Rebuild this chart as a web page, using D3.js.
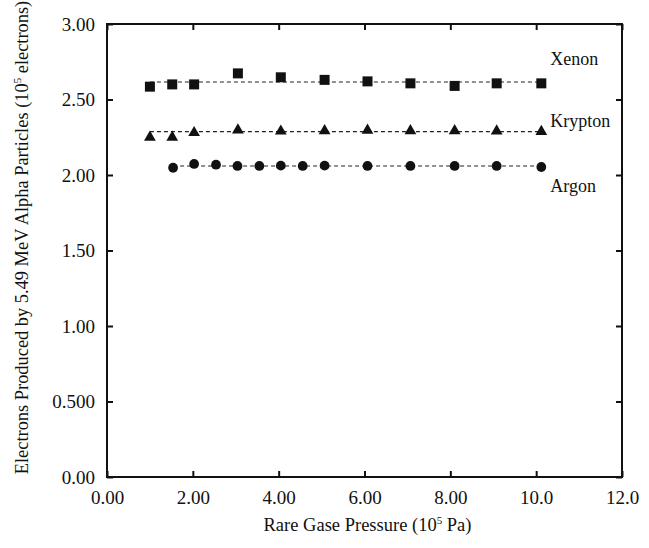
<!DOCTYPE html>
<html>
<head>
<meta charset="utf-8">
<script src="https://cdn.jsdelivr.net/npm/d3@7"></script>
<style>
  body { margin: 0; background: #fff; }
  text { font-family: "Liberation Serif", "Times New Roman", serif; fill: #111; }
</style>
</head>
<body>
<script>
// pressure (10^5 Pa) and electrons (10^5)
var xenonP = [1.0, 1.52, 2.03, 3.05, 4.05, 5.07, 6.07, 7.07, 8.1, 9.08, 10.12];
var xenonE = [2.585, 2.60, 2.60, 2.673, 2.647, 2.63, 2.62, 2.607, 2.59, 2.607, 2.607];
var kryptonP = [1.0, 1.52, 2.03, 3.05, 4.05, 5.07, 6.07, 7.07, 8.1, 9.08, 10.12];
var kryptonE = [2.25, 2.25, 2.28, 2.298, 2.29, 2.293, 2.296, 2.293, 2.293, 2.291, 2.287];
var argonP = [1.54, 2.03, 2.54, 3.04, 3.55, 4.05, 4.56, 5.07, 6.07, 7.07, 8.1, 9.08, 10.12];
var argonE = [2.048, 2.073, 2.068, 2.06, 2.06, 2.062, 2.06, 2.062, 2.06, 2.06, 2.06, 2.06, 2.053];

// fitted dashed lines (start, end)
var xenonFitP = [1.0, 10.12], xenonFitE = [2.616, 2.616];
var kryptonFitP = [1.0, 10.12], kryptonFitE = [2.287, 2.287];
var argonFitP = [1.54, 10.12], argonFitE = [2.06, 2.06];

var xTicks = [0, 2, 4, 6, 8, 10, 12];
var xTickLabels = ["0.00", "2.00", "4.00", "6.00", "8.00", "10.0", "12.0"];
var yTicks = [0, 0.5, 1, 1.5, 2, 2.5, 3];
var yTickLabels = ["0.00", "0.500", "1.00", "1.50", "2.00", "2.50", "3.00"];

var width = 649, height = 548;
var margin = {top: 24, right: 27, bottom: 71, left: 107};

var svg = d3.select("body").append("svg")
    .attr("width", width)
    .attr("height", height);

var x = d3.scaleLinear().domain([0, 12]).range([margin.left, width - margin.right]);
var y = d3.scaleLinear().domain([0, 3]).range([height - margin.bottom, margin.top]);

function zip(a, b) {
  return a.map(function(v, i) { return {p: v, e: b[i]}; });
}

// frame
svg.append("rect")
   .attr("x", x(0)).attr("y", y(3))
   .attr("width", x(12) - x(0)).attr("height", y(0) - y(3))
   .attr("fill", "none").attr("stroke", "#111").attr("stroke-width", 2);

// inward ticks on all four sides
var tl = 6;
var axB = svg.append("g").attr("transform", "translate(0," + y(0) + ")")
    .call(d3.axisBottom(x).tickValues(xTicks).tickSize(-tl).tickFormat(function(d, i) { return xTickLabels[i]; }).tickPadding(14));
var axT = svg.append("g").attr("transform", "translate(0," + y(3) + ")")
    .call(d3.axisTop(x).tickValues(xTicks).tickSize(-tl).tickFormat(""));
var axL = svg.append("g").attr("transform", "translate(" + x(0) + ",0)")
    .call(d3.axisLeft(y).tickValues(yTicks).tickSize(-tl).tickFormat(function(d, i) { return yTickLabels[i]; }).tickPadding(12));
var axR = svg.append("g").attr("transform", "translate(" + x(12) + ",0)")
    .call(d3.axisRight(y).tickValues(yTicks).tickSize(-tl).tickFormat(""));

[axB, axT, axL, axR].forEach(function(a) {
  a.select(".domain").remove();
  a.selectAll(".tick line").attr("stroke", "#111").attr("stroke-width", 2);
  a.selectAll("text")
   .style("font-family", "'Liberation Serif', serif")
   .style("font-size", "19px").attr("fill", "#111");
});

// dashed fit lines
var line = d3.line().x(function(d) { return x(d.p); }).y(function(d) { return y(d.e); });
[[xenonFitP, xenonFitE], [kryptonFitP, kryptonFitE], [argonFitP, argonFitE]].forEach(function(f) {
  svg.append("path")
     .datum(zip(f[0], f[1]))
     .attr("d", line)
     .attr("fill", "none").attr("stroke", "#222")
     .attr("stroke-width", 1.1)
     .attr("stroke-dasharray", "4,3");
});

// markers
svg.append("g").selectAll("path")
   .data(zip(xenonP, xenonE)).enter().append("path")
   .attr("d", d3.symbol().type(d3.symbolSquare).size(100))
   .attr("transform", function(d) { return "translate(" + x(d.p) + "," + y(d.e) + ")"; })
   .attr("fill", "#111");

svg.append("g").selectAll("path")
   .data(zip(kryptonP, kryptonE)).enter().append("path")
   .attr("d", d3.symbol().type(d3.symbolTriangle).size(60))
   .attr("transform", function(d) { return "translate(" + x(d.p) + "," + y(d.e) + ")"; })
   .attr("fill", "#111");

svg.append("g").selectAll("path")
   .data(zip(argonP, argonE)).enter().append("path")
   .attr("d", d3.symbol().type(d3.symbolCircle).size(75))
   .attr("transform", function(d) { return "translate(" + x(d.p) + "," + y(d.e) + ")"; })
   .attr("fill", "#111");

// series labels
var gasLabels = ["Xenon", "Krypton", "Argon"];
var gasLabelE = [2.73, 2.32, 1.89];
svg.selectAll(".gas")
   .data(gasLabels).enter().append("text")
   .attr("class", "gas")
   .attr("x", x(10.33))
   .attr("y", function(d, i) { return y(gasLabelE[i]); })
   .style("font-size", "18px")
   .text(function(d) { return d; });

// axis titles
var xt = svg.append("text")
   .attr("x", (x(0) + x(12)) / 2 + 3)
   .attr("y", 531)
   .attr("text-anchor", "middle")
   .style("font-size", "18.5px");
xt.append("tspan").text("Rare Gase Pressure (10");
xt.append("tspan").attr("dy", -7).style("font-size", "11px").text("5");
xt.append("tspan").attr("dy", 7).text(" Pa)");

var yt = svg.append("text")
   .attr("transform", "translate(28," + ((y(0) + y(3)) / 2 - 13) + ") rotate(-90)")
   .attr("text-anchor", "middle")
   .style("font-size", "18.4px");
yt.append("tspan").text("Electrons Produced by 5.49 MeV Alpha Particles (10");
yt.append("tspan").attr("dy", -7).style("font-size", "11px").text("5");
yt.append("tspan").attr("dy", 7).text(" electrons)");
</script>
</body>
</html>
